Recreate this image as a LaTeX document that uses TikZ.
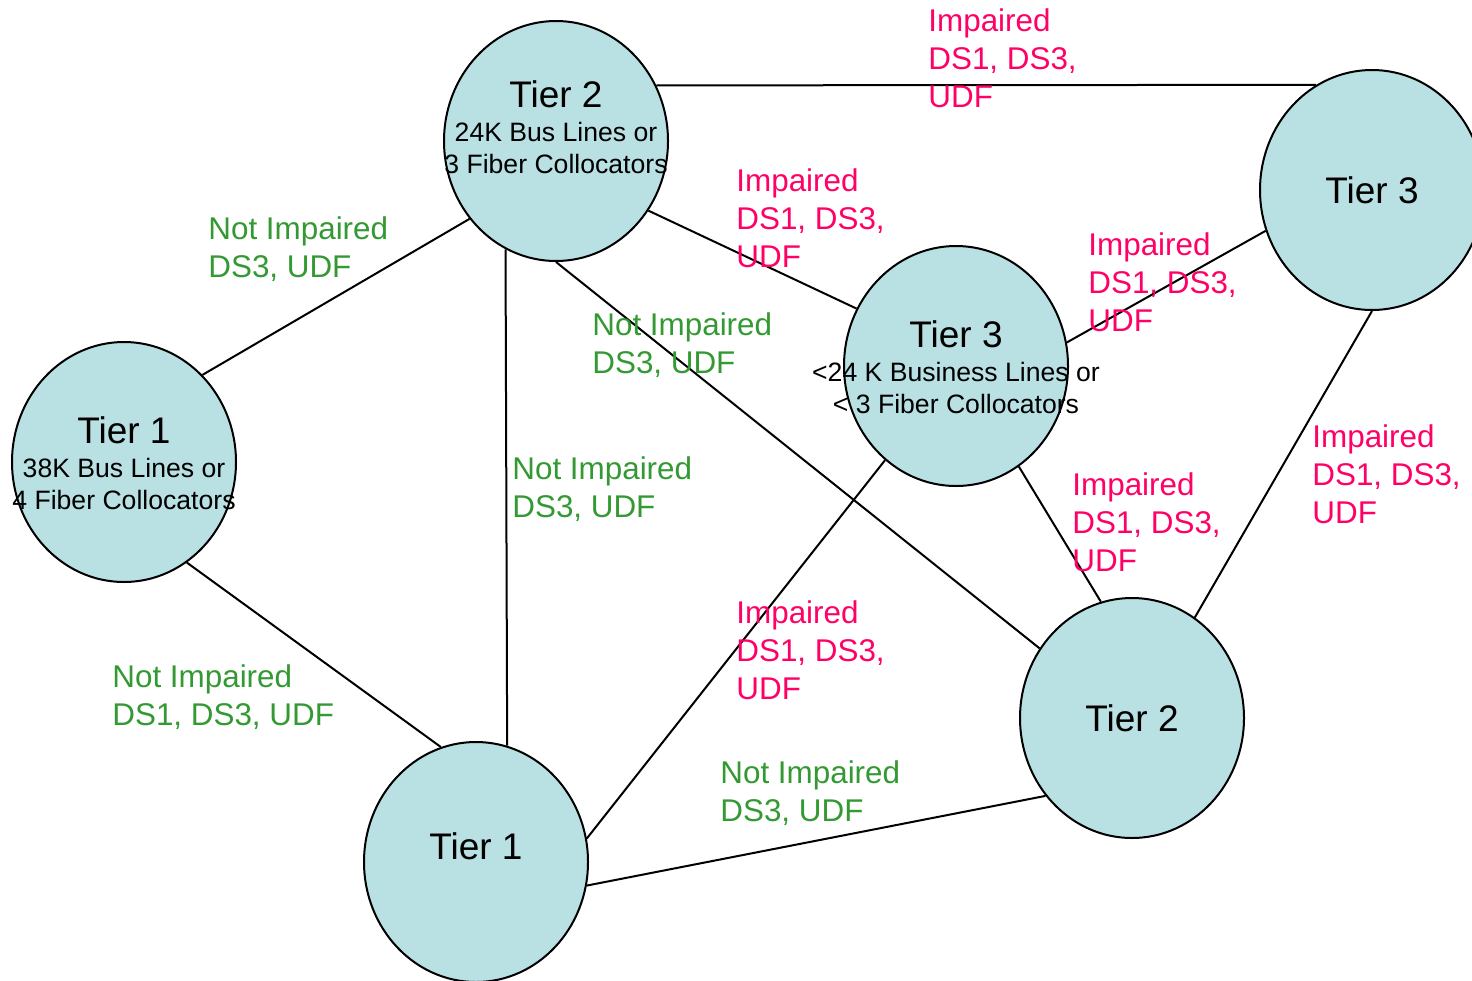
\documentclass[tikz,border=0pt]{standalone}
\usepackage{fontspec}
\setmainfont{Liberation Sans}
\usepackage{xcolor}
\usetikzlibrary{shapes.geometric}
\definecolor{tierfill}{RGB}{185,224,227}
\definecolor{impgreen}{RGB}{51,153,51}
\definecolor{imppink}{RGB}{255,0,102}

\begin{document}
\begin{tikzpicture}[x=0.5pt, y=-0.5pt,
  v/.style={ellipse, draw, line width=1pt, fill=tierfill, inner sep=0pt,
    minimum width=112pt, minimum height=120pt},
  t/.style={anchor=north, align=center, inner sep=0pt,
    font=\fontsize{13.3}{16}\selectfont},
  e/.style={black, line width=1pt},
  lab/.style={anchor=north west, align=left, inner sep=0pt,
    font=\fontsize{15.7}{19}\selectfont},
  ok/.style={lab, text=impgreen},
  bad/.style={lab, text=imppink}]
\useasboundingbox (0,0) rectangle (1472,980);
\node[v] (T2)  at (556,141)  {};
\node[v] (T1)  at (124,462)  {};
\node[v] (T3)  at (956,366)  {};
\node[v] (T3p) at (1372,190) {};
\node[v] (T2p) at (1132,718) {};
\node[v] (T1p) at (476,862)  {};
\node[t] (T2txt)  at (556,80)   {{\fontsize{18.5}{18.5}\selectfont Tier 2}\\[1pt] 24K Bus Lines or\\ 3 Fiber Collocators};
\node[t] (T1txt)  at (124,416)  {{\fontsize{18.5}{18.5}\selectfont Tier 1}\\[1pt] 38K Bus Lines or\\ 4 Fiber Collocators};
\node[t] (T3txt)  at (956,320)  {{\fontsize{18.5}{18.5}\selectfont Tier 3}\\[1pt] <24 K Business Lines or\\ < 3 Fiber Collocators};
\node[t] (T3ptxt) at (1372,176) {\fontsize{18.5}{18.5}\selectfont Tier 3};
\node[t] (T2ptxt) at (1132,704) {\fontsize{18.5}{18.5}\selectfont Tier 2};
\node[t] (T1ptxt) at (476,832)  {\fontsize{18.5}{18.5}\selectfont Tier 1};
\foreach \a/\b in {T2.29/T3p.118, T2.323/T3.150, T2.222/T1.48, T2.245/T1p.75,
    T2.south/T2p.143, T3.12/T3p.201, T3.233/T1p.12, T3.302/T2p.105,
    T3p.south/T2p.58, T1.302/T1p.107, T1p.348/T2p.222}
  \draw[e] (\a)--(\b);
% link labels
\node[bad] (L2T3p) at (928,8)    {Impaired\\ DS1, DS3,\\ UDF};
\node[bad] (L2T3)  at (736,168)  {Impaired\\ DS1, DS3,\\ UDF};
\node[ok]  (L2T1)  at (208,216)  {Not Impaired\\ DS3, UDF};
\node[bad] (L3T3p) at (1088,232) {Impaired\\ DS1, DS3,\\ UDF};
\node[ok]  (L2T2p) at (592,312)  {Not Impaired\\ DS3, UDF};
\node[ok]  (L2T1p) at (512,456)  {Not Impaired\\ DS3, UDF};
\node[bad] (L3pT2p) at (1312,424) {Impaired\\ DS1, DS3,\\ UDF};
\node[bad] (L3T2p) at (1072,472) {Impaired\\ DS1, DS3,\\ UDF};
\node[bad] (L3T1p) at (736,600)  {Impaired\\ DS1, DS3,\\ UDF};
\node[ok]  (L1T1p) at (112,664)  {Not Impaired\\ DS1, DS3, UDF};
\node[ok]  (L1pT2p) at (720,760) {Not Impaired\\ DS3, UDF};
\end{tikzpicture}
\end{document}
